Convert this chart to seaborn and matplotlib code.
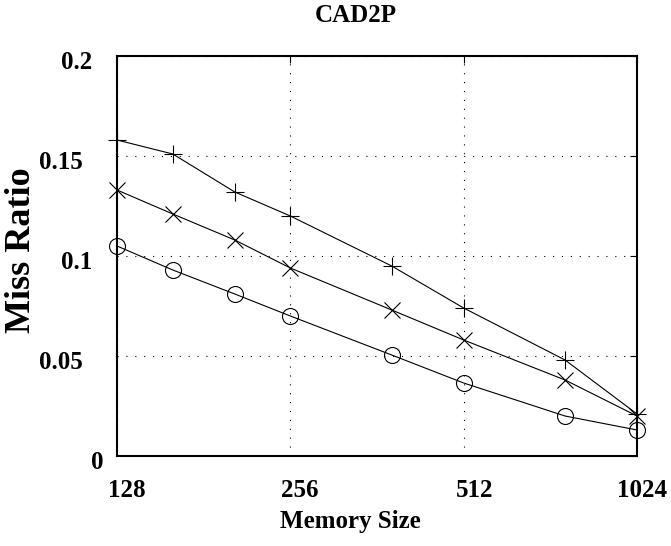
import matplotlib
matplotlib.use("Agg")
import matplotlib.pyplot as plt
import seaborn as sns
import pandas as pd
from matplotlib.ticker import NullLocator, FixedLocator
from matplotlib.transforms import ScaledTranslation, blended_transform_factory

# Miss ratio of the CAD2P trace against memory size
memory_size = [128, 160, 205, 256, 384, 512, 768, 1024]
miss_plus = [0.158, 0.151, 0.132, 0.120, 0.095, 0.074, 0.048, 0.021]
miss_cross = [0.133, 0.121, 0.108, 0.094, 0.073, 0.058, 0.038, 0.020]
miss_circle = [0.105, 0.093, 0.081, 0.070, 0.0505, 0.0365, 0.020, 0.013]

x_ticks = [128, 256, 512, 1024]
x_tick_labels = ["128", "256", "512", "1024"]
y_ticks = [0, 0.05, 0.1, 0.15, 0.2]
y_tick_labels = ["0", "0.05", "0.1", "0.15", "0.2"]

title = "CAD2P"
x_label = "Memory Size"
y_label = "Miss Ratio"

sns.set_style("white")
plt.rcParams["font.family"] = ["Liberation Serif", "DejaVu Serif"]
plt.rcParams["font.weight"] = "bold"

W, H, DPI = 671, 546, 100
fig = plt.figure(figsize=(W / DPI, H / DPI), dpi=DPI)
ax = fig.add_axes([117 / W, 1 - 456 / H, 520 / W, 400 / H])

df = pd.DataFrame({"size": memory_size, "plus": miss_plus,
                   "cross": miss_cross, "circle": miss_circle})

common = dict(color="black", linewidth=0.8, markeredgecolor="black",
              markeredgewidth=0.8, ax=ax, zorder=3, clip_on=False)
sns.lineplot(data=df, x="size", y="plus", marker="+", markersize=13, **common)
sns.lineplot(data=df, x="size", y="cross", marker="x", markersize=12, **common)
sns.lineplot(data=df, x="size", y="circle", marker="o", markersize=11.5,
             markerfacecolor="none", **common)

ax.set_xscale("log", base=2)
ax.set_xlim(128, 1024)
ax.set_ylim(0, 0.2)
ax.xaxis.set_major_locator(FixedLocator(x_ticks))
ax.xaxis.set_minor_locator(NullLocator())
ax.yaxis.set_major_locator(FixedLocator(y_ticks))
ax.yaxis.set_minor_locator(NullLocator())
ax.set_xticklabels([])
ax.set_yticklabels([])
ax.set_xlabel("")
ax.set_ylabel("")

ax.grid(True, color="black", linestyle=(0, (1, 7)), linewidth=0.8, zorder=1)
ax.set_axisbelow(True)
ax.tick_params(axis="both", which="major", direction="in", length=5,
               width=0.8, color="black", top=True, right=True,
               labelbottom=False, labelleft=False)
for sp in ax.spines.values():
    sp.set_color("black")
    sp.set_linewidth(1.5)
    sp.set_zorder(4)


def px(dx, dy):
    return ScaledTranslation(dx / DPI, dy / DPI, fig.dpi_scale_trans)


font = dict(fontsize=18, fontweight="bold", color="black")

# x tick labels, set slightly right of their ticks
x_label_dx = [-9, -9, -8, -20]
xt = blended_transform_factory(ax.transData, ax.transAxes)
for v, s, dx in zip(x_ticks, x_tick_labels, x_label_dx):
    ax.text(v, 0, s, transform=xt + px(dx, -41), ha="left", va="baseline",
            clip_on=False, **font)

# y tick labels, right edges staggered by label length
y_label_dx = [-14, -34, -25, -34, -25]
yt = blended_transform_factory(ax.transAxes, ax.transData)
for v, s, dx in zip(y_ticks, y_tick_labels, y_label_dx):
    ax.text(0, v, s, transform=yt + px(dx, -6.5), ha="right", va="center",
            clip_on=False, **font)

fig.text(356 / W, 1 - 22 / H, title, ha="center", va="baseline", **font)
fig.text(350.5 / W, 1 - 528 / H, x_label, ha="center", va="baseline", **font)
fig.text(22 / W, 1 - 250 / H, y_label, ha="center", va="center",
         rotation=90, fontsize=26, fontweight="bold", color="black")

fig.savefig("out.png", dpi=DPI)
